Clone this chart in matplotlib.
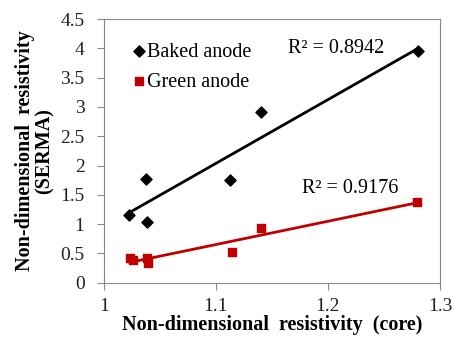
import matplotlib
matplotlib.use("Agg")
import matplotlib.pyplot as plt
import numpy as np

plt.rcParams['font.family'] = ['Liberation Serif', 'DejaVu Serif']

# data
baked_x = [1.022, 1.0375, 1.0387, 1.1128, 1.140, 1.2807]
baked_y = [1.16, 1.77, 1.03, 1.75, 2.91, 3.95]
green_x = [1.0232, 1.0256, 1.038, 1.039, 1.114, 1.140, 1.2797]
green_y = [0.43, 0.38, 0.43, 0.33, 0.52, 0.93, 1.38]
r2_baked = 0.8942
r2_green = 0.9176

red = '#C00000'

fig = plt.figure(figsize=(4.54, 3.41), dpi=100)
ax = fig.add_axes([0.229, 0.171, 0.740, 0.773])

ax.scatter(baked_x, baked_y, marker='D', s=32, color='black', zorder=3, label='Baked anode')
ax.scatter(green_x, green_y, marker='s', s=38, color=red, zorder=3, label='Green anode')

# linear trendlines
for xs, ys, c in [(baked_x, baked_y, 'black'), (green_x, green_y, red)]:
    k, b = np.polyfit(xs, ys, 1)
    xx = np.array([min(xs), max(xs)])
    ax.plot(xx, k * xx + b, color=c, linewidth=2, zorder=2)

ax.text(1.164, 4.0, f'R² = {r2_baked}', fontsize=14.5, va='center')
ax.text(1.177, 1.61, f'R² = {r2_green}', fontsize=14.5, va='center')

ax.set_xlim(1, 1.3)
ax.set_ylim(0, 4.5)
ax.set_xticks([1, 1.1, 1.2, 1.3])
ax.set_xticklabels(['1', '1.1', '1.2', '1.3'])
ax.set_yticks(np.arange(0, 4.6, 0.5))
ax.set_yticklabels(['0', '0.5', '1', '1.5', '2', '2.5', '3', '3.5', '4', '4.5'])
ax.tick_params(labelsize=14, length=5, color='#888888', labelcolor='#222222')
ax.tick_params(axis='y', pad=9)
ax.tick_params(axis='x', pad=6)
for s in ax.spines.values():
    s.set_color('#888888')

ax.set_xlabel('Non-dimensional  resistivity  (core)', fontsize=14.5, fontweight='bold', labelpad=0)
ax.set_ylabel('Non-dimensional  resistivity\n(SERMA)', fontsize=14.5, fontweight='bold',
              labelpad=4, linespacing=0.95)

ax.legend(loc='upper left', bbox_to_anchor=(0.02, 0.965), frameon=False, fontsize=14.5,
          handletextpad=-0.3, handlelength=1.4, labelspacing=0.55, borderaxespad=0.3)

fig.savefig('out.png', dpi=100)
